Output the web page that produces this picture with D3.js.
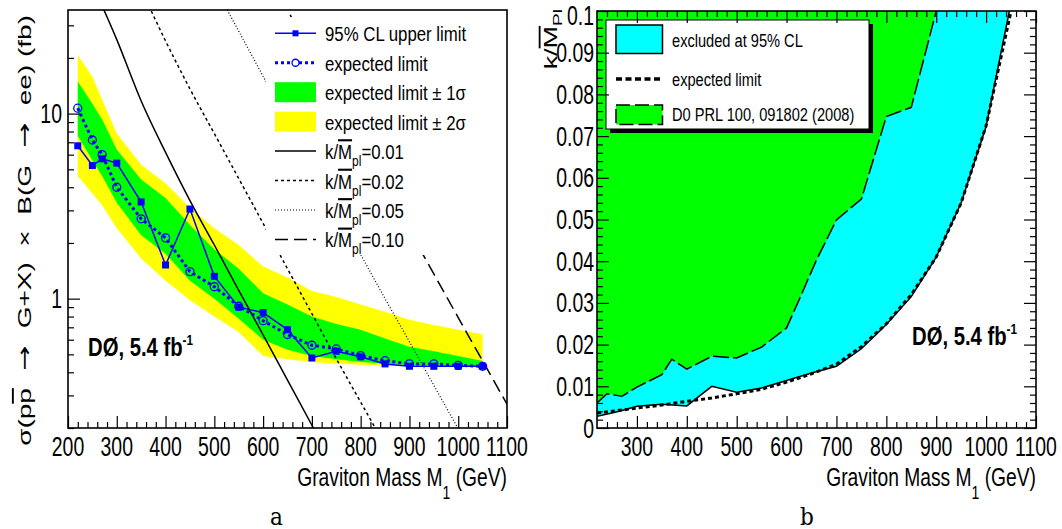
<!DOCTYPE html>
<html>
<head>
<meta charset="utf-8">
<script src="https://cdn.jsdelivr.net/npm/d3@7"></script>
<style>
  body { margin: 0; background: #fff; }
  svg { display: block; }
</style>
</head>
<body>
<svg id="chart" width="1062" height="529"></svg>
<script>
// ---------- Panel a: cross-section limits ----------
const masses = [220, 250, 270, 300, 350, 400, 450, 500, 550, 600, 650, 700, 750, 800, 850, 900, 950, 1000, 1050];
const observedXsec = [6.7, 5.24, 5.7, 5.4, 3.33, 1.52, 3.05, 1.32, 0.90, 0.84, 0.68, 0.478, 0.52, 0.485, 0.444, 0.431, 0.431, 0.431, 0.431];
const expectedXsec = [10.7, 7.2, 6.0, 4.0, 2.7, 2.13, 1.40, 1.16, 0.91, 0.76, 0.64, 0.56, 0.535, 0.492, 0.462, 0.444, 0.444, 0.436, 0.431];
const sigma1Low  = [7.6, 5.6, 4.6, 3.3, 2.2, 1.75, 1.25, 1.0, 0.78, 0.60, 0.53, 0.49, 0.47, 0.455, 0.445, 0.438, 0.435, 0.432, 0.431];
const sigma1High = [14.9, 11.3, 9.3, 6.4, 4.4, 3.5, 2.5, 1.85, 1.45, 1.07, 0.93, 0.80, 0.73, 0.68, 0.61, 0.55, 0.52, 0.49, 0.46];
const sigma2Low  = [4.6, 3.7, 3.2, 2.4, 1.65, 1.25, 0.98, 0.80, 0.66, 0.49, 0.47, 0.455, 0.445, 0.44, 0.435, 0.432, 0.43, 0.43, 0.43];
const sigma2High = [20.7, 15.8, 11.9, 7.8, 5.3, 4.2, 3.1, 2.4, 1.95, 1.49, 1.3, 1.1, 1.02, 0.93, 0.85, 0.77, 0.72, 0.68, 0.64];

// RS graviton predictions for four couplings
const theoryMass001 = [250, 300, 350, 400, 450, 500, 550, 600, 650, 700, 750];
const theoryXsec001 = [50.1, 25.1, 11.7, 6.17, 3.39, 1.95, 1.11, 0.637, 0.363, 0.207, 0.119];
const theoryMass002 = [350, 400, 450, 500, 550, 600, 650, 700, 750, 800, 850, 900];
const theoryXsec002 = [47.0, 24.7, 13.6, 7.80, 4.46, 2.55, 1.45, 0.83, 0.474, 0.276, 0.161, 0.094];
const theoryMass005 = [500, 550, 600, 650, 700, 750, 800, 850, 900, 950, 1000, 1050];
const theoryXsec005 = [48.8, 27.9, 15.9, 9.08, 5.19, 2.96, 1.73, 1.00, 0.585, 0.340, 0.198, 0.115];
const theoryMass010 = [600, 650, 700, 750, 800, 850, 900, 950, 1000, 1050, 1100];
const theoryXsec010 = [63.7, 36.3, 20.7, 11.9, 6.90, 4.02, 2.34, 1.36, 0.79, 0.461, 0.269];

const massTicksA = [200, 300, 400, 500, 600, 700, 800, 900, 1000, 1100];
const xsecMajorTicks = [1, 10];
const xsecMinorTicks = [0.2, 0.3, 0.4, 0.5, 0.6, 0.7, 0.8, 0.9, 2, 3, 4, 5, 6, 7, 8, 9, 20, 30];

// ---------- Panel b: coupling limits ----------
const limitMass = [220, 250, 270, 300, 350, 400, 450, 500, 550, 600, 650, 700, 750, 800, 850, 900, 950, 1000, 1050];
const observedK = [0.0028, 0.0036, 0.0042, 0.0052, 0.0057, 0.0053, 0.0100, 0.0086, 0.0096, 0.0114, 0.0132, 0.0148, 0.0190, 0.0248, 0.0315, 0.0410, 0.0540, 0.0723, 0.1020];
const expectedK = [0.0036, 0.0040, 0.0043, 0.0048, 0.0055, 0.0064, 0.0072, 0.0082, 0.0093, 0.0110, 0.0130, 0.0153, 0.0195, 0.0250, 0.0320, 0.0410, 0.0540, 0.0725, 0.1000];
const prlMass = [220, 240, 270, 300, 350, 370, 400, 450, 500, 550, 600, 625, 660, 700, 750, 800, 850, 900];
const prlK = [0.0060, 0.0082, 0.0076, 0.0098, 0.0128, 0.0165, 0.0141, 0.0172, 0.0168, 0.0194, 0.0240, 0.0307, 0.0403, 0.0499, 0.0549, 0.0747, 0.0769, 0.1000];

const massTicksB = [300, 400, 500, 600, 700, 800, 900, 1000, 1100];
const kTicks = [0, 0.01, 0.02, 0.03, 0.04, 0.05, 0.06, 0.07, 0.08, 0.09, 0.1];
const kTickLabels = ["0", "0.01", "0.02", "0.03", "0.04", "0.05", "0.06", "0.07", "0.08", "0.09", "0.1"];

// ---------- helpers ----------
const FONT = "'Liberation Sans', Arial, Helvetica, sans-serif";
const ARROW_FONT = "'DejaVu Sans', sans-serif";
const NB = "\u00a0";
const svg = d3.select("#chart");

// Text drawn with a horizontal squeeze (condensed look); rotated text squeezes across its glyph height.
function addText(parent, x, y, parts, o = {}) {
  const sx = o.sx ?? 1;
  const tf = `translate(${x},${y})` + (o.rotate ? ` rotate(${o.rotate}) scale(1,${sx})` : ` scale(${sx},1)`);
  const t = parent.append("text")
    .attr("transform", tf)
    .attr("font-family", o.family || FONT)
    .attr("font-size", o.size ?? 20)
    .attr("font-weight", o.weight || "normal")
    .attr("text-anchor", o.anchor || "start")
    .attr("fill", "#000");
  (typeof parts === "string" ? [{ t: parts }] : parts).forEach(p => {
    const s = t.append("tspan").text(p.t);
    if (p.dy) s.attr("dy", p.dy);
    if (p.size) s.attr("font-size", p.size);
    if (p.family) s.attr("font-family", p.family);
    if (p.over) s.style("text-decoration", "overline");
  });
  return t;
}

function tickAxis(parent, axis, transform) {
  parent.append("g").attr("transform", transform)
    .call(axis.tickFormat("").tickSizeOuter(0))
    .call(a => a.select(".domain").remove())
    .call(a => a.selectAll("line").attr("stroke", "#000").attr("stroke-width", 1.2));
}

const tickText = { size: 27, sx: 0.72, anchor: "middle" };
const xTitleParts = [{ t: "Graviton Mass M" }, { t: "1", dy: 13, size: 19 }, { t: " (GeV)", dy: -13 }];
const xTitleOpts = { size: 26, sx: 0.74, anchor: "end" };

// ================= Panel a =================
const xA = d3.scaleLinear().domain([200, 1100]).range([68, 507]);
const yA = d3.scaleLog().domain([0.2, 36.3]).range([428, 10]);
const gA = svg.append("g");
svg.append("clipPath").attr("id", "clipA").append("rect")
  .attr("x", 68).attr("y", 10).attr("width", 439).attr("height", 418);
const plotA = gA.append("g").attr("clip-path", "url(#clipA)");

const bandArea = (lo, hi) => d3.area()
  .x((d, i) => xA(masses[i])).y0((d, i) => yA(lo[i])).y1((d, i) => yA(hi[i]));
plotA.append("path").datum(masses).attr("d", bandArea(sigma2Low, sigma2High)).attr("fill", "#ffff00");
plotA.append("path").datum(masses).attr("d", bandArea(sigma1Low, sigma1High)).attr("fill", "#00ff00");

const theoryStyles = [
  { m: theoryMass001, v: theoryXsec001, dash: null, w: 1.5 },
  { m: theoryMass002, v: theoryXsec002, dash: "3,3", w: 1.5 },
  { m: theoryMass005, v: theoryXsec005, dash: "1,2", w: 1.2 },
  { m: theoryMass010, v: theoryXsec010, dash: "13,6", w: 1.5 }
];
theoryStyles.forEach(s => {
  const line = d3.line().x((d, i) => xA(s.m[i])).y(d => yA(d)).curve(d3.curveMonotoneX);
  plotA.append("path").datum(s.v).attr("d", line).attr("fill", "none")
    .attr("stroke", "#000").attr("stroke-width", s.w).attr("stroke-dasharray", s.dash);
});

const limLine = d3.line().x((d, i) => xA(masses[i])).y(d => yA(d));
plotA.append("path").datum(expectedXsec).attr("d", limLine).attr("fill", "none")
  .attr("stroke", "#0000ff").attr("stroke-width", 3).attr("stroke-dasharray", "3,3");
plotA.selectAll(".expPt").data(expectedXsec).join("circle")
  .attr("cx", (d, i) => xA(masses[i])).attr("cy", d => yA(d)).attr("r", 4)
  .attr("fill", "none").attr("stroke", "#0000ff").attr("stroke-width", 1.3);
plotA.append("path").datum(observedXsec).attr("d", limLine).attr("fill", "none")
  .attr("stroke", "#0000ff").attr("stroke-width", 1.5);
plotA.selectAll(".obsPt").data(observedXsec).join("rect")
  .attr("x", (d, i) => xA(masses[i]) - 3.5).attr("y", d => yA(d) - 3.5)
  .attr("width", 7).attr("height", 7).attr("fill", "#0000ff");

// legend
const legA = gA.append("g");
legA.append("rect").attr("x", 266).attr("y", 17).attr("width", 240).attr("height", 238).attr("fill", "#fff");
const legRowY = i => 33.3 + i * 29.45;
const legTextA = { size: 21, sx: 0.8 };
legA.append("line").attr("x1", 275).attr("x2", 316).attr("y1", legRowY(0)).attr("y2", legRowY(0))
  .attr("stroke", "#0000ff").attr("stroke-width", 1.5);
legA.append("rect").attr("x", 292.5).attr("y", legRowY(0) - 3).attr("width", 6).attr("height", 6).attr("fill", "#0000ff");
legA.append("line").attr("x1", 275).attr("x2", 316).attr("y1", legRowY(1)).attr("y2", legRowY(1))
  .attr("stroke", "#0000ff").attr("stroke-width", 3).attr("stroke-dasharray", "3,3");
legA.append("circle").attr("cx", 295.5).attr("cy", legRowY(1)).attr("r", 3.5).attr("fill", "#fff")
  .attr("stroke", "#0000ff").attr("stroke-width", 1.3);
legA.append("rect").attr("x", 275).attr("y", legRowY(2) - 10).attr("width", 41).attr("height", 20).attr("fill", "#00ff00");
legA.append("rect").attr("x", 275).attr("y", legRowY(3) - 10).attr("width", 41).attr("height", 20).attr("fill", "#ffff00");
theoryStyles.forEach((s, i) => {
  legA.append("line").attr("x1", 275).attr("x2", 316).attr("y1", legRowY(4 + i)).attr("y2", legRowY(4 + i))
    .attr("stroke", "#000").attr("stroke-width", s.w).attr("stroke-dasharray", s.dash);
});
addText(legA, 325, legRowY(0) + 8, "95% CL upper limit", legTextA);
addText(legA, 325, legRowY(1) + 8, "expected limit", legTextA);
addText(legA, 325, legRowY(2) + 8, "expected limit ± 1σ", legTextA);
addText(legA, 325, legRowY(3) + 8, "expected limit ± 2σ", legTextA);
["0.01", "0.02", "0.05", "0.10"].forEach((k, i) => {
  addText(legA, 325, legRowY(4 + i) + 8, [
    { t: "k/" }, { t: "M", over: true }, { t: "pl", dy: 7, size: 15 }, { t: "=" + k, dy: -7 }
  ], legTextA);
});

// frame and ticks
gA.append("rect").attr("x", 68).attr("y", 10).attr("width", 439).attr("height", 418)
  .attr("fill", "none").attr("stroke", "#000").attr("stroke-width", 1.6);
tickAxis(gA, d3.axisBottom(xA).tickValues(massTicksA).tickSize(-12), "translate(0,428)");
tickAxis(gA, d3.axisBottom(xA).tickValues(d3.range(220, 1100, 20).filter(m => m % 100)).tickSize(-6), "translate(0,428)");
tickAxis(gA, d3.axisLeft(yA).tickValues(xsecMajorTicks).tickSize(-12), "translate(68,0)");
tickAxis(gA, d3.axisLeft(yA).tickValues(xsecMinorTicks).tickSize(-6), "translate(68,0)");

massTicksA.forEach(m => addText(gA, xA(m), 456, String(m), tickText));
xsecMajorTicks.forEach(v => addText(gA, 62, yA(v) + 9.5, String(v), { ...tickText, anchor: "end" }));

addText(gA, 507, 485.5, xTitleParts, xTitleOpts);
const arrow = { t: `${NB}→${NB}`, family: ARROW_FONT, size: 30 };
addText(gA, 31, 15, [
  { t: "σ(p" }, { t: "p", over: true }, { t: " " }, arrow,
  { t: ` G+X)${NB} ×${NB} B(G ` }, arrow, { t: " ee) (fb)" }
], { size: 28, sx: 0.68, anchor: "end", rotate: -90 });

addText(gA, 88, 356, [{ t: "DØ, 5.4 fb" }, { t: "-1", dy: -11, size: 15 }],
  { size: 26, sx: 0.78, weight: "bold" });
addText(gA, 270, 525, "a", { size: 24, sx: 0.9, family: "'DejaVu Serif', 'Liberation Serif', serif" });

// ================= Panel b =================
const xB = d3.scaleLinear().domain([220, 1100]).range([597, 1036]);
const yB = d3.scaleLinear().domain([0, 0.1]).range([428, 11]);
const gB = svg.append("g");
svg.append("clipPath").attr("id", "clipB").append("rect")
  .attr("x", 597).attr("y", 11).attr("width", 439).attr("height", 417);
const plotB = gB.append("g").attr("clip-path", "url(#clipB)");

const topArea = (mArr) => d3.area().x((d, i) => xB(mArr[i])).y0(yB(0.1)).y1(d => yB(d));
plotB.append("path").datum(observedK).attr("d", topArea(limitMass)).attr("fill", "#00ffff");
plotB.append("path").datum(prlK).attr("d", topArea(prlMass)).attr("fill", "#00ff00");

const kLine = (mArr) => d3.line().x((d, i) => xB(mArr[i])).y(d => yB(d));
plotB.append("path").datum(observedK).attr("d", kLine(limitMass)).attr("fill", "none")
  .attr("stroke", "#000").attr("stroke-width", 1.5);
plotB.append("path").datum(expectedK).attr("d", kLine(limitMass)).attr("fill", "none")
  .attr("stroke", "#000").attr("stroke-width", 3).attr("stroke-dasharray", "4,3");
plotB.append("path").datum(prlK).attr("d", kLine(prlMass)).attr("fill", "none")
  .attr("stroke", "#000").attr("stroke-width", 1.5).attr("stroke-dasharray", "16,4");

// legend with drop shadow
const legB = gB.append("g");
legB.append("rect").attr("x", 610).attr("y", 24).attr("width", 263).attr("height", 109).attr("fill", "#000");
legB.append("rect").attr("x", 606).attr("y", 20).attr("width", 263).attr("height", 109)
  .attr("fill", "#fff").attr("stroke", "#000").attr("stroke-width", 1);
legB.append("rect").attr("x", 616).attr("y", 25).attr("width", 46.5).attr("height", 28.5)
  .attr("fill", "#00ffff").attr("stroke", "#000").attr("stroke-width", 1.5);
legB.append("line").attr("x1", 616).attr("x2", 662).attr("y1", 79).attr("y2", 79)
  .attr("stroke", "#000").attr("stroke-width", 3.5).attr("stroke-dasharray", "6,3.5");
legB.append("rect").attr("x", 616).attr("y", 105).attr("width", 46.5).attr("height", 19.5)
  .attr("fill", "#00ff00").attr("stroke", "#000").attr("stroke-width", 1.5).attr("stroke-dasharray", "14,5");
const legTextB = { size: 19, sx: 0.77 };
addText(legB, 672, 47, "excluded at 95% CL", legTextB);
addText(legB, 672, 86, "expected limit", legTextB);
addText(legB, 672, 121, "D0 PRL 100, 091802 (2008)", legTextB);

// frame and ticks on all four sides
gB.append("rect").attr("x", 597).attr("y", 11).attr("width", 439).attr("height", 417)
  .attr("fill", "none").attr("stroke", "#000").attr("stroke-width", 1.6);
const minorMassB = d3.range(240, 1100, 20).filter(m => m % 100);
const minorK = d3.range(1, 50).map(i => i * 0.002).filter((d, i) => (i + 1) % 5);
tickAxis(gB, d3.axisBottom(xB).tickValues(massTicksB).tickSize(-12), "translate(0,428)");
tickAxis(gB, d3.axisBottom(xB).tickValues(minorMassB).tickSize(-6), "translate(0,428)");
tickAxis(gB, d3.axisTop(xB).tickValues(massTicksB).tickSize(-12), "translate(0,11)");
tickAxis(gB, d3.axisTop(xB).tickValues(minorMassB).tickSize(-6), "translate(0,11)");
tickAxis(gB, d3.axisLeft(yB).tickValues(kTicks).tickSize(-12), "translate(597,0)");
tickAxis(gB, d3.axisLeft(yB).tickValues(minorK).tickSize(-6), "translate(597,0)");
tickAxis(gB, d3.axisRight(yB).tickValues(kTicks).tickSize(-12), "translate(1036,0)");
tickAxis(gB, d3.axisRight(yB).tickValues(minorK).tickSize(-6), "translate(1036,0)");

massTicksB.forEach(m => addText(gB, xB(m), 456, String(m), tickText));
// top label is nudged down so it stays inside the page
kTicks.forEach((v, i) => addText(gB, 594, Math.max(yB(v) + 9.5, 24.5), kTickLabels[i], { ...tickText, anchor: "end" }));

addText(gB, 1036, 485.5, xTitleParts, xTitleOpts);
addText(gB, 557, 9, [{ t: "k/" }, { t: "M", over: true }, { t: "Pl", dy: 7, size: 19 }],
  { size: 27, sx: 0.68, anchor: "end", rotate: -90 });

addText(gB, 912, 345, [{ t: "DØ, 5.4 fb" }, { t: "-1", dy: -11, size: 15 }],
  { size: 26, sx: 0.78, weight: "bold" });
addText(gB, 800, 525, "b", { size: 24, sx: 0.9, family: "'DejaVu Serif', 'Liberation Serif', serif" });
</script>
</body>
</html>
